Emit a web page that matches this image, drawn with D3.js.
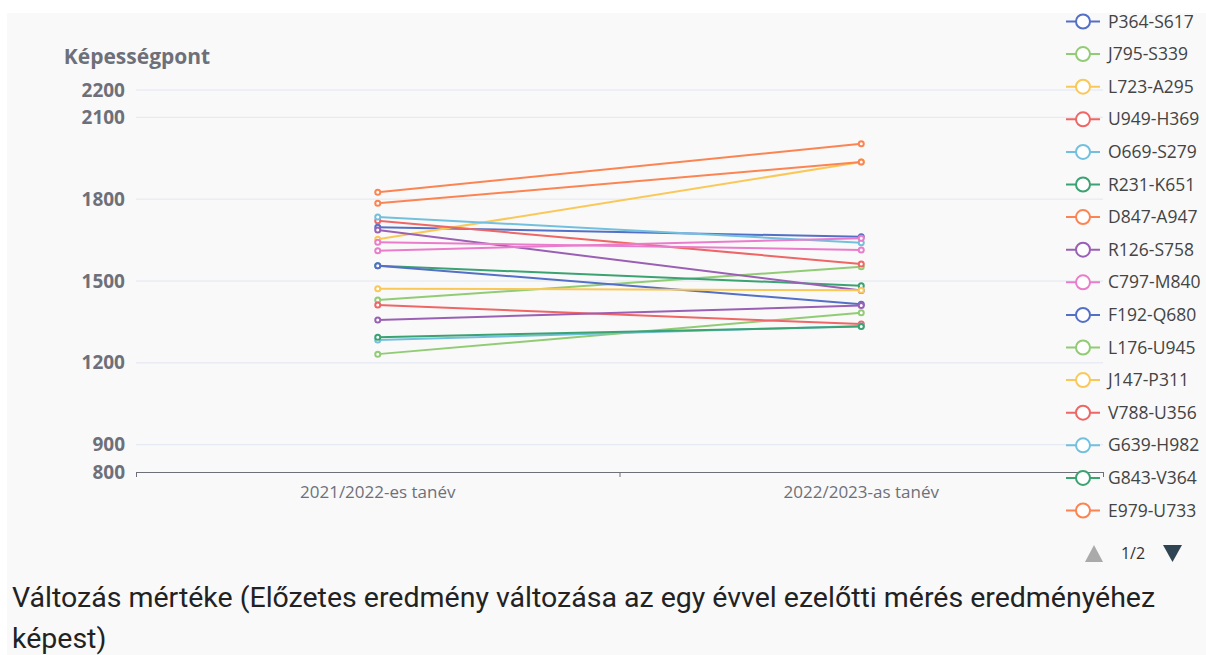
<!DOCTYPE html>
<html>
<head>
<meta charset="utf-8">
<script src="https://cdn.jsdelivr.net/npm/d3@7"></script>
<style>
  body { margin: 0; background: #fff; }
  #graph { width: 1206px; height: 655px; }
</style>
</head>
<body>
<div id="graph"></div>
<script>
// school years on the x axis
const years = ["2021/2022-es tanév", "2022/2023-as tanév"];

// series names (first 16 shown on legend page 1, last two are on page 2)
const names = ["P364-S617", "J795-S339", "L723-A295", "U949-H369", "O669-S279", "R231-K651",
               "D847-A947", "R126-S758", "C797-M840", "F192-Q680", "L176-U945", "J147-P311",
               "V788-U356", "G639-H982", "G843-V364", "E979-U733", "K418-B527", "M256-T604"];

// values, one per school year
const first  = [1697, 1430, 1653, 1721, 1735, 1556, 1825, 1687, 1642, 1556, 1232, 1472,
                1412, 1284, 1294, 1785, 1357, 1611];
const second = [1662, 1552, 1936, 1562, 1640, 1483, 2003, 1465, 1614, 1415, 1384, 1466,
                1342, 1335, 1333, 1936, 1410, 1657];

const yTicks = [800, 900, 1200, 1500, 1800, 2100, 2200];

function graph() {
  let w = 1206;
  let h = 655;
  let left = 136, right = 1103, top = 90, bottom = 472;
  let labelFont = "'Open Sans', 'Noto Sans', sans-serif";

  let palette = ["#5470c6", "#91cc75", "#fac858", "#ee6666", "#73c0de",
                 "#3ba272", "#fc8452", "#9a60b4", "#ea7ccc"];
  const color = d3.scaleOrdinal().domain(names).range(palette);

  const svg = d3.select("#graph")
                .append("svg")
                .attr("width", w)
                .attr("height", h);

  // grey panel behind the chart
  svg.append("rect")
     .attr("x", 7).attr("y", 13)
     .attr("width", w - 7).attr("height", h - 13)
     .attr("fill", "#f9f9f9");

  const xScale = d3.scaleBand()
                   .domain(years)
                   .range([left, right]);

  const yScale = d3.scaleLinear()
                   .domain([800, 2200])
                   .range([bottom, top]);

  // horizontal grid lines
  svg.append("g")
     .selectAll("line")
     .data(yTicks.filter(t => t > 800))
     .enter().append("line")
     .attr("x1", left).attr("x2", right)
     .attr("y1", d => yScale(d)).attr("y2", d => yScale(d))
     .attr("stroke", "#e0e6f1")
     .attr("stroke-width", 1);

  const yAxis = d3.axisLeft(yScale)
                  .tickValues(yTicks)
                  .tickFormat(d3.format("d"))
                  .tickSize(0)
                  .tickPadding(11);

  let yg = svg.append("g")
              .attr("id", "y-axis")
              .attr("transform", "translate(" + left + ",0)")
              .call(yAxis);
  yg.select(".domain").remove();
  yg.selectAll("text")
    .attr("fill", "#6e7079")
    .style("font-family", labelFont)
    .style("font-size", "19px")
    .style("font-weight", "bold");

  svg.append("text")
     .attr("x", 137)
     .attr("y", 64)
     .attr("text-anchor", "middle")
     .attr("fill", "#6e7079")
     .style("font-family", labelFont)
     .style("font-size", "21px")
     .style("font-weight", "bold")
     .text("Képességpont");

  const xAxis = d3.axisBottom(xScale)
                  .tickSize(0)
                  .tickPadding(14);

  let xg = svg.append("g")
              .attr("id", "x-axis")
              .attr("transform", "translate(0," + bottom + ")")
              .call(xAxis);
  xg.select(".domain")
    .attr("stroke", "#6e7079")
    .attr("d", "M" + left + ",0.5H" + right);
  xg.selectAll("text")
    .attr("fill", "#6e7079")
    .style("font-family", labelFont)
    .style("font-size", "17px");

  // boundary ticks between the categories
  let bounds = [left, xScale(years[1]), right];
  xg.selectAll(".bound")
    .data(bounds)
    .enter().append("line")
    .attr("class", "bound")
    .attr("x1", d => d + 0.5).attr("x2", d => d + 0.5)
    .attr("y1", 0).attr("y2", 5)
    .attr("stroke", "#6e7079");

  let cx = d => xScale(d) + xScale.bandwidth() / 2;

  let series = names.map((n, i) => ({
    name: n,
    points: [{ year: years[0], value: first[i] }, { year: years[1], value: second[i] }]
  }));

  const line = d3.line()
                 .x(d => cx(d.year))
                 .y(d => yScale(d.value));

  let sg = svg.append("g")
              .selectAll("g")
              .data(series)
              .enter().append("g");

  sg.append("path")
    .attr("d", d => line(d.points))
    .attr("fill", "none")
    .attr("stroke", d => color(d.name))
    .attr("stroke-width", 2);

  sg.selectAll("circle")
    .data(d => d.points.map(p => ({ ...p, name: d.name })))
    .enter().append("circle")
    .attr("cx", d => cx(d.year))
    .attr("cy", d => yScale(d.value))
    .attr("r", 2.5)
    .attr("fill", "#fff")
    .attr("stroke", d => color(d.name))
    .attr("stroke-width", 2);

  // legend, page 1 of 2
  let pageNames = names.slice(0, 16);
  let legend = svg.append("g")
                  .selectAll("g")
                  .data(pageNames)
                  .enter().append("g")
                  .attr("transform", (d, i) => "translate(0," + (21.5 + i * 32.6) + ")");

  legend.append("line")
        .attr("x1", 1066).attr("x2", 1100)
        .attr("y1", 0).attr("y2", 0)
        .attr("stroke", d => color(d))
        .attr("stroke-width", 2);

  legend.append("circle")
        .attr("cx", 1083).attr("cy", 0)
        .attr("r", 7)
        .attr("fill", "#fff")
        .attr("stroke", d => color(d))
        .attr("stroke-width", 2);

  legend.append("text")
        .attr("x", 1108)
        .attr("y", 6)
        .attr("fill", "#444")
        .style("font-family", labelFont)
        .style("font-size", "17.5px")
        .text(d => d);

  // pager
  svg.append("path")
     .attr("d", "M1094,545L1103,562L1085,562Z")
     .attr("fill", "#aaa");
  svg.append("text")
     .attr("x", 1133)
     .attr("y", 559)
     .attr("text-anchor", "middle")
     .attr("fill", "#333")
     .style("font-family", labelFont)
     .style("font-size", "16px")
     .text("1/2");
  svg.append("path")
     .attr("d", "M1163,545L1182,545L1172.5,562Z")
     .attr("fill", "#2f4554");

  // caption under the chart
  let caption = svg.append("text")
                   .attr("fill", "#222")
                   .style("font-family", "Roboto, sans-serif")
                   .style("font-size", "28.5px");
  caption.append("tspan")
         .attr("x", 12).attr("y", 607)
         .text("Változás mértéke (Előzetes eredmény változása az egy évvel ezelőtti mérés eredményéhez");
  caption.append("tspan")
         .attr("x", 12).attr("y", 648)
         .text("képest)");
}

graph();
</script>
</body>
</html>
